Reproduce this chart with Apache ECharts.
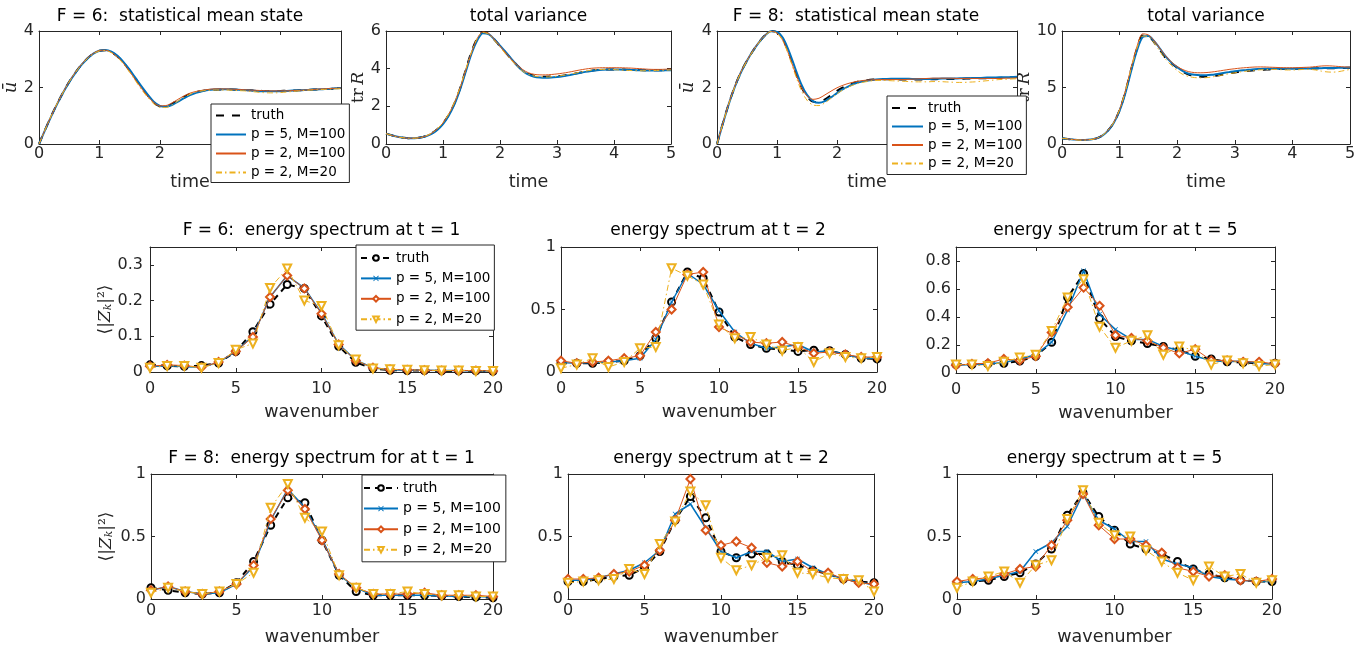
<!DOCTYPE html>
<html><head><meta charset="utf-8">
<script src="https://cdn.jsdelivr.net/npm/echarts@6/dist/echarts.min.js"></script>
<style>html,body{margin:0;padding:0;background:#fff}#c{width:1364px;height:651px}</style>
</head><body><div id="c"></div>
<script>
// ---------------- DATA ----------------
const time = [0,0.1,0.2,0.3,0.4,0.5,0.6,0.7,0.8,0.9,1,1.1,1.2,1.3,1.4,1.5,1.6,1.7,1.8,1.9,2,2.1,2.2,2.3,2.4,2.5,2.6,2.7,2.8,2.9,3,3.1,3.2,3.3,3.4,3.5,3.6,3.7,3.8,3.9,4,4.1,4.2,4.3,4.4,4.5,4.6,4.7,4.8,4.9,5];
const wavenumber = [0,1,2,3,4,5,6,7,8,9,10,11,12,13,14,15,16,17,18,19,20];
const seriesNames = ['truth','p = 5, M=100','p = 2, M=100','p = 2, M=20'];
const titles = ['F = 6:  statistical mean state','total variance','F = 8:  statistical mean state','total variance',
  'F = 6:  energy spectrum at t = 1','energy spectrum at t = 2','energy spectrum for at t = 5',
  'F = 8:  energy spectrum for at t = 1','energy spectrum at t = 2','energy spectrum at t = 5'];

// F = 6 statistical mean state
const f6Mean_truth = [0,0.5,0.98,1.42,1.83,2.2,2.52,2.8,3.03,3.2,3.3,3.32,3.25,3.1,2.88,2.6,2.3,2.0,1.72,1.48,1.34,1.33,1.42,1.55,1.67,1.77,1.84,1.88,1.91,1.92,1.93,1.93,1.93,1.92,1.91,1.9,1.89,1.88,1.88,1.88,1.88,1.89,1.89,1.9,1.91,1.92,1.93,1.94,1.95,1.96,1.97];
const f6Mean_p5M100 = [0,0.49,0.97,1.41,1.82,2.19,2.51,2.79,3.02,3.2,3.3,3.33,3.27,3.12,2.9,2.63,2.33,2.03,1.75,1.5,1.35,1.32,1.38,1.5,1.62,1.73,1.81,1.87,1.91,1.93,1.94,1.94,1.93,1.92,1.91,1.9,1.88,1.87,1.87,1.87,1.87,1.88,1.89,1.9,1.91,1.92,1.93,1.94,1.95,1.97,1.98];
const f6Mean_p2M100 = [0,0.5,0.98,1.43,1.84,2.21,2.53,2.81,3.04,3.21,3.31,3.32,3.24,3.08,2.85,2.57,2.26,1.96,1.69,1.47,1.35,1.36,1.45,1.58,1.7,1.8,1.86,1.9,1.93,1.95,1.95,1.95,1.94,1.93,1.92,1.91,1.9,1.89,1.88,1.88,1.88,1.88,1.89,1.9,1.91,1.92,1.94,1.95,1.96,1.97,1.98];
const f6Mean_p2M20 = [0,0.5,0.99,1.43,1.83,2.2,2.52,2.79,3.02,3.19,3.29,3.31,3.23,3.06,2.83,2.54,2.23,1.92,1.65,1.42,1.3,1.29,1.38,1.52,1.65,1.76,1.84,1.88,1.9,1.91,1.91,1.91,1.9,1.89,1.88,1.86,1.84,1.82,1.81,1.81,1.82,1.84,1.86,1.88,1.9,1.91,1.92,1.93,1.94,1.95,1.96];
// F = 6 total variance
const f6Var_truth = [0.55,0.46,0.38,0.33,0.31,0.31,0.34,0.42,0.56,0.78,1.1,1.55,2.15,2.95,3.95,4.9,5.6,5.93,5.85,5.55,5.2,4.85,4.5,4.18,3.9,3.72,3.62,3.58,3.57,3.58,3.6,3.63,3.68,3.73,3.79,3.84,3.89,3.93,3.95,3.96,3.96,3.96,3.95,3.94,3.93,3.92,3.91,3.91,3.91,3.92,3.93];
const f6Var_p5M100 = [0.55,0.46,0.38,0.33,0.31,0.31,0.34,0.41,0.54,0.75,1.06,1.5,2.1,2.9,3.85,4.8,5.5,5.88,5.84,5.56,5.22,4.88,4.52,4.18,3.88,3.68,3.57,3.53,3.52,3.53,3.56,3.6,3.65,3.71,3.77,3.83,3.88,3.92,3.94,3.95,3.95,3.95,3.94,3.93,3.92,3.91,3.9,3.9,3.9,3.91,3.92];
const f6Var_p2M100 = [0.55,0.46,0.38,0.33,0.31,0.31,0.34,0.42,0.57,0.8,1.12,1.58,2.18,2.98,3.93,4.85,5.6,5.95,5.87,5.56,5.2,4.84,4.5,4.2,3.95,3.78,3.7,3.67,3.67,3.69,3.72,3.76,3.81,3.87,3.93,3.98,4.02,4.04,4.05,4.05,4.05,4.05,4.04,4.03,4.01,3.99,3.97,3.96,3.96,3.97,3.98];
const f6Var_p2M20 = [0.55,0.46,0.38,0.33,0.31,0.31,0.34,0.43,0.58,0.81,1.14,1.6,2.22,3.02,3.97,4.88,5.6,5.92,5.83,5.5,5.14,4.78,4.44,4.12,3.86,3.7,3.61,3.57,3.56,3.57,3.6,3.64,3.69,3.75,3.81,3.87,3.92,3.95,3.96,3.96,3.95,3.93,3.91,3.9,3.89,3.89,3.89,3.9,3.91,3.92,3.93];
// F = 8 statistical mean state
const f8Mean_truth = [0,0.75,1.45,2.05,2.55,2.95,3.3,3.6,3.85,4.0,3.95,3.7,3.2,2.6,2.05,1.68,1.5,1.48,1.58,1.73,1.88,2.0,2.1,2.18,2.23,2.26,2.28,2.29,2.29,2.29,2.29,2.28,2.28,2.28,2.28,2.29,2.29,2.3,2.3,2.3,2.31,2.31,2.32,2.32,2.33,2.33,2.34,2.34,2.35,2.36,2.37];
const f8Mean_p5M100 = [0,0.74,1.44,2.04,2.54,2.95,3.3,3.6,3.84,3.99,3.97,3.75,3.28,2.7,2.14,1.74,1.52,1.46,1.52,1.65,1.8,1.94,2.05,2.14,2.2,2.24,2.27,2.29,2.3,2.31,2.31,2.31,2.31,2.3,2.3,2.3,2.31,2.31,2.32,2.32,2.32,2.33,2.33,2.34,2.34,2.35,2.35,2.36,2.36,2.37,2.38];
const f8Mean_p2M100 = [0,0.75,1.46,2.06,2.56,2.96,3.31,3.61,3.85,3.99,3.93,3.66,3.15,2.55,2.03,1.7,1.58,1.62,1.74,1.87,1.99,2.08,2.15,2.2,2.24,2.26,2.27,2.28,2.28,2.28,2.28,2.28,2.29,2.3,2.31,2.32,2.33,2.33,2.33,2.33,2.32,2.32,2.32,2.32,2.32,2.32,2.32,2.32,2.33,2.33,2.34];
const f8Mean_p2M20 = [0,0.74,1.44,2.04,2.54,2.94,3.29,3.59,3.83,3.98,3.92,3.64,3.1,2.48,1.92,1.55,1.38,1.36,1.46,1.62,1.78,1.92,2.03,2.11,2.17,2.21,2.24,2.25,2.25,2.24,2.23,2.22,2.21,2.2,2.2,2.2,2.21,2.21,2.2,2.19,2.18,2.18,2.19,2.2,2.22,2.24,2.26,2.28,2.29,2.3,2.31];
// F = 8 total variance
const f8Var_truth = [0.5,0.45,0.4,0.36,0.36,0.4,0.5,0.75,1.2,1.9,3.0,4.6,6.6,8.4,9.6,9.55,9.0,8.3,7.6,7.15,6.75,6.4,6.15,6.0,5.95,5.95,6.0,6.07,6.15,6.25,6.33,6.4,6.45,6.5,6.55,6.58,6.6,6.62,6.63,6.64,6.65,6.66,6.67,6.68,6.69,6.7,6.7,6.71,6.72,6.73,6.75];
const f8Var_p5M100 = [0.5,0.45,0.4,0.36,0.36,0.4,0.5,0.74,1.18,1.87,2.95,4.5,6.45,8.25,9.45,9.55,9.1,8.45,7.75,7.2,6.8,6.45,6.22,6.12,6.08,6.08,6.12,6.2,6.28,6.36,6.44,6.5,6.55,6.6,6.63,6.65,6.66,6.67,6.67,6.67,6.67,6.67,6.68,6.69,6.7,6.71,6.72,6.73,6.74,6.75,6.76];
const f8Var_p2M100 = [0.5,0.45,0.4,0.36,0.36,0.4,0.5,0.76,1.22,1.93,3.05,4.7,6.75,8.6,9.75,9.65,9.15,8.45,7.8,7.25,6.85,6.58,6.4,6.32,6.3,6.32,6.37,6.44,6.52,6.6,6.66,6.72,6.76,6.8,6.82,6.82,6.8,6.78,6.76,6.75,6.75,6.76,6.78,6.8,6.85,6.9,6.92,6.9,6.86,6.82,6.8];
const f8Var_p2M20 = [0.5,0.45,0.39,0.34,0.34,0.39,0.5,0.76,1.22,1.93,3.05,4.65,6.65,8.45,9.55,9.5,8.95,8.2,7.5,6.95,6.5,6.15,5.97,5.88,5.85,5.87,5.93,6.02,6.12,6.22,6.3,6.38,6.45,6.5,6.55,6.58,6.6,6.6,6.58,6.55,6.55,6.57,6.6,6.6,6.55,6.45,6.38,6.36,6.4,6.5,6.6];

// Energy spectra
const f6t1_truth = [0.02,0.017,0.016,0.018,0.025,0.057,0.113,0.19,0.245,0.234,0.157,0.072,0.027,0.01,0.005,0.004,0.004,0.003,0.003,0.003,0.002];
const f6t1_p5M100 = [0.015,0.018,0.015,0.013,0.027,0.058,0.1,0.21,0.27,0.235,0.165,0.078,0.033,0.012,0.006,0.005,0.005,0.004,0.004,0.003,0.003];
const f6t1_p2M100 = [0.016,0.02,0.018,0.013,0.028,0.058,0.098,0.21,0.27,0.234,0.163,0.077,0.032,0.012,0.007,0.006,0.005,0.004,0.004,0.004,0.003];
const f6t1_p2M20 = [0.012,0.017,0.017,0.012,0.025,0.062,0.08,0.235,0.29,0.2,0.185,0.075,0.035,0.01,0.008,0.006,0.005,0.004,0.004,0.003,0.003];

const f6t2_truth = [0.07,0.07,0.07,0.08,0.09,0.13,0.27,0.56,0.8,0.75,0.48,0.28,0.22,0.19,0.18,0.165,0.175,0.17,0.14,0.11,0.105];
const f6t2_p5M100 = [0.075,0.07,0.075,0.08,0.09,0.11,0.26,0.56,0.79,0.7,0.49,0.32,0.23,0.19,0.2,0.22,0.16,0.17,0.14,0.11,0.11];
const f6t2_p2M100 = [0.09,0.07,0.08,0.09,0.11,0.13,0.32,0.5,0.78,0.8,0.36,0.3,0.24,0.23,0.24,0.2,0.15,0.16,0.14,0.12,0.12];
const f6t2_p2M20 = [0.03,0.06,0.11,0.04,0.08,0.19,0.2,0.83,0.77,0.7,0.38,0.27,0.28,0.22,0.17,0.2,0.08,0.15,0.12,0.11,0.12];

const f6t5_truth = [0.06,0.06,0.065,0.07,0.085,0.12,0.22,0.54,0.71,0.39,0.26,0.23,0.21,0.19,0.165,0.12,0.1,0.08,0.075,0.07,0.07];
const f6t5_p5M100 = [0.055,0.06,0.065,0.075,0.1,0.13,0.22,0.45,0.73,0.42,0.31,0.24,0.24,0.19,0.16,0.12,0.09,0.08,0.085,0.07,0.06];
const f6t5_p2M100 = [0.055,0.065,0.07,0.1,0.09,0.12,0.29,0.47,0.61,0.48,0.27,0.25,0.23,0.18,0.14,0.17,0.09,0.09,0.08,0.08,0.065];
const f6t5_p2M20 = [0.06,0.06,0.05,0.08,0.11,0.13,0.3,0.54,0.67,0.33,0.18,0.23,0.27,0.13,0.19,0.16,0.06,0.09,0.07,0.05,0.06];

const f8t1_truth = [0.09,0.07,0.05,0.04,0.05,0.13,0.3,0.59,0.81,0.77,0.47,0.19,0.06,0.03,0.03,0.03,0.03,0.025,0.02,0.015,0.01];
const f8t1_p5M100 = [0.07,0.1,0.06,0.04,0.05,0.12,0.26,0.63,0.88,0.73,0.48,0.19,0.09,0.03,0.03,0.03,0.03,0.025,0.02,0.02,0.015];
const f8t1_p2M100 = [0.07,0.1,0.06,0.04,0.06,0.12,0.27,0.64,0.87,0.72,0.47,0.2,0.09,0.04,0.04,0.04,0.05,0.03,0.03,0.03,0.02];
const f8t1_p2M20 = [0.05,0.09,0.06,0.04,0.06,0.12,0.21,0.73,0.92,0.65,0.54,0.19,0.09,0.04,0.04,0.06,0.04,0.03,0.03,0.02,0.02];

const f8t2_truth = [0.14,0.14,0.16,0.18,0.19,0.25,0.38,0.63,0.82,0.65,0.38,0.33,0.36,0.36,0.3,0.27,0.23,0.2,0.16,0.14,0.13];
const f8t2_p5M100 = [0.15,0.15,0.17,0.2,0.23,0.29,0.39,0.68,0.76,0.57,0.38,0.33,0.38,0.38,0.3,0.32,0.25,0.2,0.16,0.14,0.11];
const f8t2_p2M100 = [0.16,0.16,0.17,0.2,0.22,0.27,0.39,0.63,0.96,0.55,0.43,0.46,0.41,0.29,0.26,0.3,0.22,0.21,0.16,0.13,0.12];
const f8t2_p2M20 = [0.13,0.14,0.15,0.16,0.24,0.2,0.44,0.62,0.86,0.75,0.33,0.23,0.27,0.33,0.35,0.21,0.2,0.17,0.16,0.15,0.06];

const f8t5_truth = [0.13,0.14,0.15,0.18,0.21,0.28,0.4,0.67,0.85,0.66,0.55,0.44,0.4,0.36,0.3,0.24,0.2,0.17,0.15,0.14,0.14];
const f8t5_p5M100 = [0.13,0.14,0.16,0.19,0.22,0.38,0.45,0.58,0.84,0.63,0.56,0.46,0.46,0.32,0.28,0.25,0.18,0.16,0.15,0.14,0.14];
const f8t5_p2M100 = [0.14,0.16,0.17,0.2,0.24,0.26,0.43,0.63,0.84,0.59,0.48,0.48,0.43,0.37,0.25,0.22,0.18,0.19,0.15,0.14,0.16];
const f8t5_p2M20 = [0.09,0.14,0.18,0.22,0.13,0.27,0.31,0.64,0.87,0.61,0.51,0.5,0.39,0.3,0.21,0.15,0.26,0.18,0.2,0.13,0.15];

// ---------------- STYLE / LAYOUT ----------------
const FONT = 'DejaVu Sans';
const AX = '#262626';
const COLORS = ['#000000','#0072BD','#D95319','#EDB120'];
const XSYM = 'path://M0,1L1,0L5,4L9,0L10,1L6,5L10,9L9,10L5,6L1,10L0,9L4,5Z';
const DASH = [8,8], DASHDOT = [6,3,1.5,3];

const RICH = {
  u:{fontFamily:'DejaVu Serif',fontStyle:'italic',fontSize:18,color:AX},
  r:{fontFamily:'DejaVu Serif',fontSize:17,color:AX},
  i:{fontFamily:'DejaVu Serif',fontStyle:'italic',fontSize:17,color:AX},
  a:{fontFamily:'DejaVu Serif',fontSize:17,color:AX},
  s:{fontFamily:'DejaVu Serif',fontStyle:'italic',fontSize:11,color:AX,verticalAlign:'bottom'}
};
const UBAR = '{u|ū}', TRR = '{r|tr\u2009}{i|R}', ZK = '{a|⟨|}{i|Z}{s|k}{a||²⟩}';

const panels = [
  {kind:'t', g:[39,31,302,113], x:[0,5,1], y:[0,4,2], xs:time, ys:[f6Mean_truth,f6Mean_p5M100,f6Mean_p2M100,f6Mean_p2M20], yName:UBAR, yGap:19, xm:2, ym:5, xGap:29},
  {kind:'t', g:[386,31,285,113], x:[0,5,1], y:[0,6,2], xs:time, ys:[f6Var_truth,f6Var_p5M100,f6Var_p2M100,f6Var_p2M20], yName:TRR, yGap:19, xm:2, ym:5, xGap:29},
  {kind:'t', g:[717,31,300,113], x:[0,5,1], y:[0,4,2], xs:time, ys:[f8Mean_truth,f8Mean_p5M100,f8Mean_p2M100,f8Mean_p2M20], yName:UBAR, yGap:20, xm:2, ym:5, xGap:29},
  {kind:'t', g:[1062,31,288,113], x:[0,5,1], y:[0,10,5], xs:time, ys:[f8Var_truth,f8Var_p5M100,f8Var_p2M100,f8Var_p2M20], yName:TRR, yGap:27, xm:2, ym:5, xGap:29},
  {kind:'s', g:[150,247,343,125], x:[0,20,5], y:[0,0.35,0.1], xs:wavenumber, ys:[f6t1_truth,f6t1_p5M100,f6t1_p2M100,f6t1_p2M20], yName:ZK, yGap:35, xm:9, ym:7, xGap:31, hideMax:true},
  {kind:'s', g:[561,247,316,125], x:[0,20,5], y:[0,1,0.5], xs:wavenumber, ys:[f6t2_truth,f6t2_p5M100,f6t2_p2M100,f6t2_p2M20], xm:9, ym:5, xGap:31},
  {kind:'s', g:[956,247,319,126], x:[0,20,5], y:[0,0.9,0.2], xs:wavenumber, ys:[f6t5_truth,f6t5_p5M100,f6t5_p2M100,f6t5_p2M20], xm:9, ym:5, xGap:31, hideMax:true},
  {kind:'s', g:[151,474,342,125], x:[0,20,5], y:[0,1,0.5], xs:wavenumber, ys:[f8t1_truth,f8t1_p5M100,f8t1_p2M100,f8t1_p2M20], yName:ZK, yGap:36, xm:4, ym:5, xGap:29},
  {kind:'s', g:[568,474,306,125], x:[0,20,5], y:[0,1,0.5], xs:wavenumber, ys:[f8t2_truth,f8t2_p5M100,f8t2_p2M100,f8t2_p2M20], xm:4, ym:5, xGap:29},
  {kind:'s', g:[957,474,315,125], x:[0,20,5], y:[0,1,0.5], xs:wavenumber, ys:[f8t5_truth,f8t5_p5M100,f8t5_p2M100,f8t5_p2M20], xm:4, ym:5, xGap:29}
];
const titlePos = [[180,16.5],[528.5,16.5],[856,16.5],[1206,16.5],[321.5,231],[718,231],[1115.5,231],[321.5,459],[721,459],[1114.5,459]];

const grid = [], xAxis = [], yAxis = [], series = [];
const tickCfg = {inside:true, length:4, lineStyle:{color:AX, width:1}};
const lineCfg = {onZero:false, lineStyle:{color:AX, width:1}};
panels.forEach((p, i) => {
  grid.push({left:p.g[0], top:p.g[1], width:p.g[2], height:p.g[3], containLabel:false});
  const xName = p.kind === 't' ? 'time' : 'wavenumber';
  xAxis.push({type:'value', gridIndex:i, position:'bottom', min:p.x[0], max:p.x[1], interval:p.x[2],
    axisLine:lineCfg, axisTick:tickCfg, splitLine:{show:false},
    axisLabel:{margin:p.xm, color:AX, fontFamily:FONT, fontSize:16},
    name:xName, nameLocation:'middle', nameGap:p.xGap,
    nameTextStyle:{fontFamily:FONT, fontSize:17.5, color:AX}});
  xAxis.push({type:'value', gridIndex:i, position:'top', min:p.x[0], max:p.x[1], interval:p.x[2],
    axisLine:lineCfg, axisTick:tickCfg, splitLine:{show:false}, axisLabel:{show:false}});
  yAxis.push({type:'value', gridIndex:i, position:'left', min:p.y[0], max:p.y[1], interval:p.y[2],
    axisLine:lineCfg, axisTick:tickCfg, splitLine:{show:false},
    axisLabel:{margin:p.ym, color:AX, fontFamily:FONT, fontSize:16, showMaxLabel:!p.hideMax},
    name:p.yName || '', nameLocation:'middle', nameGap:p.yGap || 20,
    nameTextStyle:{fontFamily:FONT, fontSize:17, color:AX, rich:RICH}});
  yAxis.push({type:'value', gridIndex:i, position:'right', min:p.y[0], max:p.y[1], interval:p.y[2],
    axisLine:lineCfg, axisTick:tickCfg, splitLine:{show:false}, axisLabel:{show:false}});
  p.ys.forEach((vals, k) => {
    const data = p.xs.map((x, j) => [x, vals[j]]);
    const base = {type:'line', xAxisIndex:2*i, yAxisIndex:2*i, data, silent:true, animation:false, z:2+k};
    if (p.kind === 't') {
      series.push(Object.assign(base, {name:'T:'+seriesNames[k], symbol:'none', smooth:0.3,
        itemStyle:{color:COLORS[k]},
        lineStyle:{color:COLORS[k], width:[2,2,1,1][k], type:[DASH,'solid','solid',DASHDOT][k]}}));
    } else {
      series.push(Object.assign(base, {name:'S:'+seriesNames[k],
        symbol:['emptyCircle',XSYM,'emptyDiamond','emptyTriangle'][k],
        symbolSize:[7,5,8,8][k], symbolRotate:[0,0,0,180][k], showSymbol:true,
        itemStyle:{color:COLORS[k], borderWidth:[1.5,0,1,1][k]},
        lineStyle:{color:COLORS[k], width:[2,1.5,1,1][k], type:[[6,5],'solid','solid',DASHDOT][k]}}));
    }
  });
});

function legendCfg(prefix, left, top, itemWidth, itemHeight, itemGap, padding, fontSize, hideSym) {
  const l = {show:true, orient:'vertical', left, top, itemWidth, itemHeight, itemGap, padding,
    data:seriesNames.map(n => prefix + n), formatter: n => n.slice(2), selectedMode:false,
    backgroundColor:'#ffffff', borderColor:AX, borderWidth:1, borderRadius:0, z:10,
    textStyle:{fontFamily:FONT, fontSize, lineHeight:14, color:'#000'}};
  if (hideSym) l.itemStyle = {opacity:0};
  return l;
}
const legend = [
  legendCfg('T:', 211, 104, 30, 14, 5, [4.5,4,3,4], 13.5, true),
  legendCfg('T:', 887, 96, 31, 14, 4.5, [5,4,4,4], 13.5, true),
  legendCfg('S:', 356, 245, 30, 7, 6.4, [6,4,4,4], 13.5, false),
  legendCfg('S:', 362, 475, 34, 7, 6.6, [6,5,5,1], 14, false)
];

const graphic = titles.map((t, i) => ({type:'text', x:titlePos[i][0], y:titlePos[i][1], silent:true,
  style:{text:t, fontFamily:FONT, fontSize:17, fill:'#000', align:'center', verticalAlign:'middle'}}));

const chart = echarts.init(document.getElementById('c'), null, {renderer:'canvas'});
chart.setOption({animation:false, backgroundColor:'#fff', grid, xAxis, yAxis, series, legend, graphic});
</script></body></html>
